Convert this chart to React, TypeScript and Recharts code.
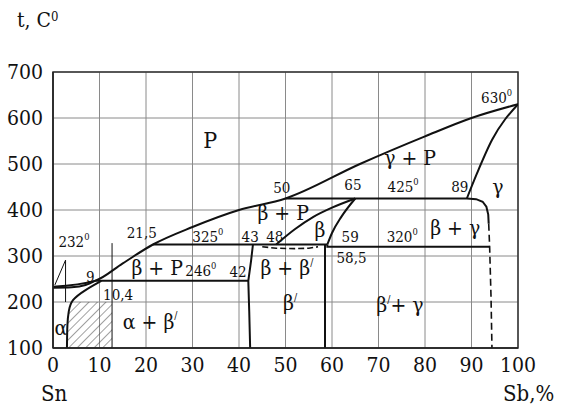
import {
  Area,
  CartesianGrid,
  ComposedChart,
  Line,
  ReferenceArea,
  Scatter,
  XAxis,
  YAxis,
} from "recharts";

const xTicks = [0, 10, 20, 30, 40, 50, 60, 70, 80, 90, 100];
const yTicks = [100, 200, 300, 400, 500, 600, 700];

// liquidus, Sn side to Sb side
const liquidus = [
  { x: 0, t: 233 },
  { x: 9, t: 246 },
  { x: 15, t: 284 },
  { x: 21.5, t: 325 },
  { x: 30, t: 363 },
  { x: 40, t: 400 },
  { x: 50, t: 425 },
  { x: 66, t: 500 },
  { x: 80, t: 560 },
  { x: 90, t: 600 },
  { x: 100, t: 630 },
];
const snSolidus = [
  { x: 0, t: 231 },
  { x: 4, t: 232 },
  { x: 7, t: 237 },
  { x: 9, t: 246 },
];
const line246 = [
  { x: 9, t: 246 },
  { x: 42, t: 246 },
];
const line325 = [
  { x: 21.5, t: 325 },
  { x: 59, t: 325 },
];
const line320 = [
  { x: 59, t: 325 },
  { x: 59, t: 320 },
  { x: 93.9, t: 320 },
];
const line425 = [
  { x: 50, t: 425 },
  { x: 89, t: 425 },
  { x: 91, t: 423.5 },
  { x: 92.4, t: 418 },
  { x: 93.2, t: 407 },
  { x: 93.6, t: 390 },
  { x: 93.7, t: 370 },
];
const gammaDashed = [
  { x: 93.7, t: 370 },
  { x: 93.9, t: 320 },
  { x: 94.2, t: 210 },
  { x: 94.4, t: 100 },
];
const gammaSolidus = [
  { x: 89, t: 425 },
  { x: 91.2, t: 480 },
  { x: 94.4, t: 552 },
  { x: 100, t: 630 },
];
const betaLeft = [
  { x: 48, t: 325 },
  { x: 52, t: 358 },
  { x: 56, t: 385 },
  { x: 60, t: 405 },
  { x: 65, t: 425 },
];
const betaRight = [
  { x: 59, t: 325 },
  { x: 60, t: 350 },
  { x: 62, t: 385 },
  { x: 65, t: 425 },
];
const betaPrimeLeft = [
  { x: 43, t: 325 },
  { x: 42.6, t: 290 },
  { x: 42, t: 246 },
  { x: 42.2, t: 180 },
  { x: 42.4, t: 100 },
];
const betaPrimeRight = [
  { x: 58.5, t: 325 },
  { x: 58.5, t: 100 },
];
const betaDashed = [
  { x: 45, t: 320 },
  { x: 48, t: 317 },
  { x: 52, t: 316 },
  { x: 55, t: 317 },
  { x: 57, t: 320 },
];
const alphaSolvus = [
  { x: 10.4, t: 246 },
  { x: 7, t: 226 },
  { x: 4.3, t: 204 },
  { x: 3.4, t: 180 },
  { x: 3.1, t: 150 },
  { x: 3, t: 100 },
];
const pointer232 = [
  { x: 0.4, t: 237 },
  { x: 2.7, t: 291 },
  { x: 2.7, t: 200 },
];
const hatchEdge = [
  { x: 12.7, t: 100 },
  { x: 12.7, t: 328 },
];
const hatch = [
  { x: 3, t: 100 },
  { x: 3.1, t: 150 },
  { x: 3.4, t: 180 },
  { x: 4.3, t: 200 },
  { x: 12.7, t: 200 },
];

// sup marks a raised suffix (degree zero or prime)
const labels = [
  { x: 33.8, t: 552, text: "P", size: 23 },
  { x: 76.8, t: 513, text: "γ + P", size: 21 },
  { x: 95.4, t: 643, text: "630", sup: "0", size: 15 },
  { x: 95.7, t: 450, text: "γ", size: 21 },
  { x: 87.5, t: 450, text: "89", size: 15 },
  { x: 75.3, t: 450, text: "425", sup: "0", size: 15 },
  { x: 64.5, t: 454, text: "65", size: 15 },
  { x: 49.2, t: 448, text: "50", size: 15 },
  { x: 49.5, t: 393, text: "β + P", size: 21 },
  { x: 57.4, t: 356, text: "β", size: 21 },
  { x: 63.9, t: 341, text: "59", size: 15 },
  { x: 75.1, t: 341, text: "320", sup: "0", size: 15 },
  { x: 86.5, t: 361, text: "β + γ", size: 21 },
  { x: 64.2, t: 296, text: "58,5", size: 15 },
  { x: 33.3, t: 341, text: "325", sup: "0", size: 15 },
  { x: 42.4, t: 341, text: "43", size: 15 },
  { x: 47.7, t: 341, text: "48", size: 15 },
  { x: 39.8, t: 265, text: "42", size: 15 },
  { x: 31.8, t: 267, text: "246", sup: "0", size: 15 },
  { x: 50.3, t: 274, text: "β + β", sup: "/", size: 21 },
  { x: 51, t: 198, text: "β", sup: "/", size: 21 },
  { x: 74.6, t: 193, text: "β", sup: "/", after: "+ γ", size: 21 },
  { x: 22.4, t: 274, text: "β + P", size: 21 },
  { x: 20.9, t: 157, text: "α + β", sup: "/", size: 21 },
  { x: 1.7, t: 143, text: "α", size: 21 },
  { x: 4.5, t: 330, text: "232", sup: "0", size: 15 },
  { x: 8, t: 254, text: "9", size: 15 },
  { x: 14, t: 215, text: "10,4", size: 15 },
  { x: 19.1, t: 350, text: "21,5", size: 15 },
];

const SERIF = "'DejaVu Serif Condensed', 'DejaVu Serif', serif";
const INK = "#111";

function PhaseLabel(props: any) {
  const { cx, cy, payload } = props;
  if (cx == null || cy == null) return null;
  const size: number = payload.size;
  const rise = payload.sup === "/" ? size * 0.3 : size * 0.42;
  const supSize = payload.sup === "/" ? size * 0.5 : size * 0.62;
  return (
    <text
      x={cx}
      y={cy}
      textAnchor="middle"
      dominantBaseline="central"
      fontFamily={SERIF}
      fill={INK}
      fontSize={size}
    >
      <tspan>{payload.text}</tspan>
      {payload.sup && (
        <tspan dy={-rise} fontSize={supSize}>
          {payload.sup}
        </tspan>
      )}
      {payload.after && <tspan dy={rise}>{payload.after}</tspan>}
    </text>
  );
}

const boundary = {
  stroke: INK,
  strokeWidth: 2,
  dot: false,
  activeDot: false,
  isAnimationActive: false,
  dataKey: "t",
} as const;

const thin = { ...boundary, strokeWidth: 1 } as const;

export default function App() {
  return (
    <div style={{ position: "fixed", left: 0, top: 0, width: 562, height: 409, background: "#fff" }}>
      <svg width={0} height={0} style={{ position: "absolute" }}>
        <defs>
          <pattern id="hatch" width={6} height={6} patternUnits="userSpaceOnUse" patternTransform="rotate(45)">
            <line x1={0} y1={0} x2={0} y2={6} stroke="#444" strokeWidth={1} />
          </pattern>
        </defs>
      </svg>
      <ComposedChart width={562} height={409} margin={{ top: 72, right: 44, bottom: 31, left: 13 }}>
        <CartesianGrid stroke="#8a8a8a" strokeWidth={1} />
        <XAxis
          type="number"
          dataKey="x"
          domain={[0, 100]}
          ticks={xTicks}
          interval={0}
          allowDataOverflow
          height={30}
          tickLine={false}
          tickSize={0}
          tickMargin={9}
          axisLine={{ stroke: "#222", strokeWidth: 1.5 }}
          tick={{ fill: INK, fontSize: 21, fontFamily: SERIF }}
        />
        <YAxis
          type="number"
          domain={[100, 700]}
          ticks={yTicks}
          interval={0}
          allowDataOverflow
          width={40}
          tickLine={false}
          tickSize={0}
          tickMargin={10}
          axisLine={{ stroke: "#222", strokeWidth: 1.5 }}
          tick={{ fill: INK, fontSize: 21, fontFamily: SERIF }}
        />
        <ReferenceArea x1={0} x2={100} y1={100} y2={700} fill="none" stroke="#333" strokeWidth={1.5} />
        <Area
          data={hatch}
          dataKey="t"
          baseValue={100}
          type="linear"
          fill="url(#hatch)"
          fillOpacity={1}
          stroke="none"
          isAnimationActive={false}
          activeDot={false}
        />
        <Line {...boundary} data={liquidus} type="monotone" />
        <Line {...boundary} data={snSolidus} type="monotone" />
        <Line {...boundary} data={line246} type="linear" />
        <Line {...boundary} data={line325} type="linear" />
        <Line {...boundary} data={line320} type="linear" />
        <Line {...boundary} data={line425} type="linear" />
        <Line {...boundary} data={gammaDashed} type="linear" strokeWidth={1.6} strokeDasharray="7 4" />
        <Line {...boundary} data={gammaSolidus} type="monotone" />
        <Line {...boundary} data={betaLeft} type="monotone" />
        <Line {...boundary} data={betaRight} type="monotone" />
        <Line {...boundary} data={betaPrimeLeft} type="linear" />
        <Line {...boundary} data={betaPrimeRight} type="linear" />
        <Line {...boundary} data={betaDashed} type="linear" strokeWidth={1.6} strokeDasharray="6 3" />
        <Line {...boundary} data={alphaSolvus} type="natural" />
        <Line {...thin} data={pointer232} type="linear" />
        <Line {...thin} data={hatchEdge} type="linear" />
        <Scatter data={labels} dataKey="t" shape={PhaseLabel} isAnimationActive={false} />
      </ComposedChart>
      <div style={{ position: "absolute", left: 17, top: 8, fontFamily: SERIF, fontSize: 21, color: INK }}>
        t, C<sup style={{ fontSize: 13, verticalAlign: 6 }}>0</sup>
      </div>
      <div style={{ position: "absolute", left: 41, top: 381, fontFamily: SERIF, fontSize: 22, color: INK }}>
        Sn
      </div>
      <div style={{ position: "absolute", left: 503, top: 381, fontFamily: SERIF, fontSize: 22, color: INK }}>
        Sb,%
      </div>
    </div>
  );
}
